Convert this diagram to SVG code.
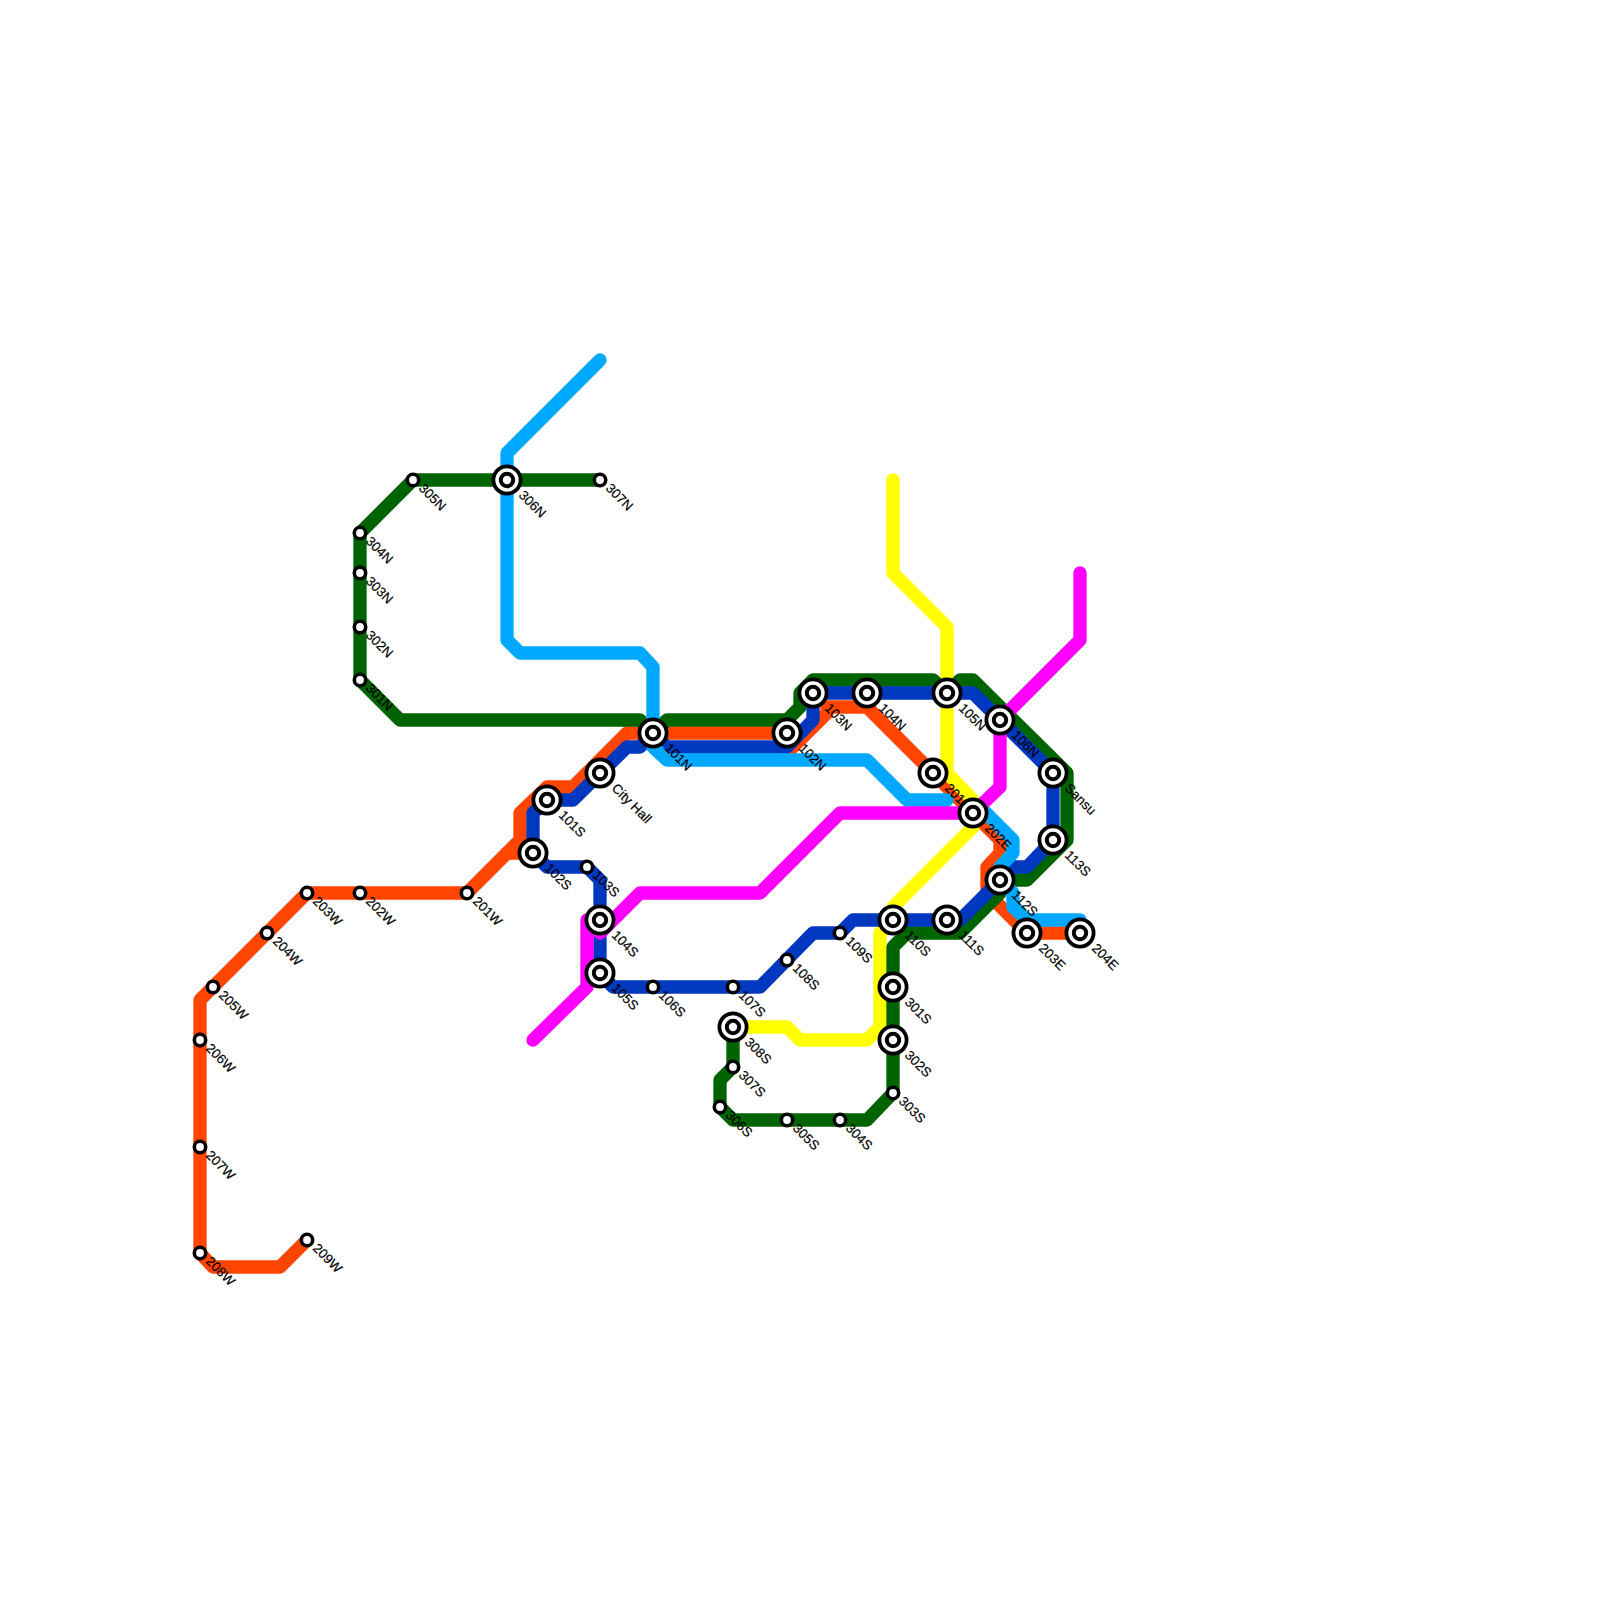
<svg xmlns="http://www.w3.org/2000/svg" width="1600" height="1600" viewBox="0 0 1600 1600">
<style>
.l{fill:none;stroke-width:13.33;stroke-linecap:round;stroke-linejoin:round}
.r{stroke:#FF4500}.y{stroke:#FFFF00}.g{stroke:#006400}.b{stroke:#0038C0}.c{stroke:#00A8FF}.m{stroke:#FF00FF}
.o,.i,.s{fill:#fff;stroke:#000}
.o{stroke-width:3.8;r:13.6px}
.i{stroke-width:4;r:6.2px}
.s{stroke-width:3.6;r:5.7px}
text{font-family:"Liberation Sans",Arial,sans-serif;font-size:13.33px;fill:#000;stroke:#000;stroke-width:.2}
</style>
<rect width="1600" height="1600" fill="#fff"/>
<g id="connectors">
<path class="l r" d="M307 1240L280 1267H213L200 1253V1000L307 893H467L520 840V813L547 787H573L627 733H787V753L827 713V707H867L933 773L973 813L1000 840V853L987 867V893L1027 933H1080"/>
<path class="l r" d="M507 853H533"/>
<path class="l y" d="M893 480V573L947 627V773L973 800V827L893 907V920L880 933V1027L867 1040H800L787 1027H733"/>
<path class="l g" d="M600 480H413L360 533V680L400 720H640L653 733L667 720H787L800 707V693L813 680H933L947 693L960 680H973L1067 773V840L1027 880H1000V893L960 933H907L893 947V1093L867 1120H733L720 1107V1080L733 1067V1027"/>
<path class="l b" d="M653 733L640 747H627L573 800H547L533 813V853L547 867H587L600 880V973L613 987H760L813 933H840L853 920H960L1000 880L1013 867H1027L1053 840V773L973 693H813V720L787 747H667L653 733"/>
<path class="l c" d="M600 360L507 453V640L520 653H640L653 667V747L667 760H867L907 800H947"/>
<path class="l c" d="M980 807L1013 840V853L1000 867V880L1013 893V907L1027 920H1080"/>
<path class="l m" d="M1080 573V640L1000 720V787L973 813H840L760 893H640L600 933"/>
<path class="l m" d="M600 920H587V987L533 1040"/>
</g>
<g id="n-201W"><circle class="s" cx="467" cy="893"/><text transform="translate(472 902) rotate(45)">201W</text></g>
<g id="n-202W"><circle class="s" cx="360" cy="893"/><text transform="translate(365 902) rotate(45)">202W</text></g>
<g id="n-203W"><circle class="s" cx="307" cy="893"/><text transform="translate(312 902) rotate(45)">203W</text></g>
<g id="n-204W"><circle class="s" cx="267" cy="933"/><text transform="translate(272 942) rotate(45)">204W</text></g>
<g id="n-205W"><circle class="s" cx="213" cy="987"/><text transform="translate(218 996) rotate(45)">205W</text></g>
<g id="n-206W"><circle class="s" cx="200" cy="1040"/><text transform="translate(205 1049) rotate(45)">206W</text></g>
<g id="n-207W"><circle class="s" cx="200" cy="1147"/><text transform="translate(205 1156) rotate(45)">207W</text></g>
<g id="n-208W"><circle class="s" cx="200" cy="1253"/><text transform="translate(205 1262) rotate(45)">208W</text></g>
<g id="n-209W"><circle class="s" cx="307" cy="1240"/><text transform="translate(312 1249) rotate(45)">209W</text></g>
<g id="n-301N"><circle class="s" cx="360" cy="680"/><text transform="translate(365 689) rotate(45)">301N</text></g>
<g id="n-302N"><circle class="s" cx="360" cy="627"/><text transform="translate(365 636) rotate(45)">302N</text></g>
<g id="n-303N"><circle class="s" cx="360" cy="573"/><text transform="translate(365 582) rotate(45)">303N</text></g>
<g id="n-304N"><circle class="s" cx="360" cy="533"/><text transform="translate(365 542) rotate(45)">304N</text></g>
<g id="n-305N"><circle class="s" cx="413" cy="480"/><text transform="translate(418 489) rotate(45)">305N</text></g>
<g id="n-306N"><circle class="o" cx="507" cy="480"/><circle class="i" cx="507" cy="480"/><text transform="translate(518 496) rotate(45)">306N</text></g>
<g id="n-307N"><circle class="s" cx="600" cy="480"/><text transform="translate(605 489) rotate(45)">307N</text></g>
<g id="n-101S"><circle class="o" cx="547" cy="800"/><circle class="i" cx="547" cy="800"/><text transform="translate(558 816) rotate(45)">101S</text></g>
<g id="n-102S"><circle class="o" cx="533" cy="853"/><circle class="i" cx="533" cy="853"/><text transform="translate(544 869) rotate(45)">102S</text></g>
<g id="n-103S"><circle class="s" cx="587" cy="867"/><text transform="translate(592 876) rotate(45)">103S</text></g>
<g id="n-104S"><circle class="o" cx="600" cy="920"/><circle class="i" cx="600" cy="920"/><text transform="translate(611 936) rotate(45)">104S</text></g>
<g id="n-105S"><circle class="o" cx="600" cy="973"/><circle class="i" cx="600" cy="973"/><text transform="translate(611 989) rotate(45)">105S</text></g>
<g id="n-106S"><circle class="s" cx="653" cy="987"/><text transform="translate(658 996) rotate(45)">106S</text></g>
<g id="n-107S"><circle class="s" cx="733" cy="987"/><text transform="translate(738 996) rotate(45)">107S</text></g>
<g id="n-108S"><circle class="s" cx="787" cy="960"/><text transform="translate(792 969) rotate(45)">108S</text></g>
<g id="n-109S"><circle class="s" cx="840" cy="933"/><text transform="translate(845 942) rotate(45)">109S</text></g>
<g id="n-110S"><circle class="o" cx="893" cy="920"/><circle class="i" cx="893" cy="920"/><text transform="translate(904 936) rotate(45)">110S</text></g>
<g id="n-111S"><circle class="o" cx="947" cy="920"/><circle class="i" cx="947" cy="920"/><text transform="translate(958 936) rotate(45)">111S</text></g>
<g id="n-112S"><text transform="translate(1011 896) rotate(45)">112S</text><circle class="o" cx="1000" cy="880"/><circle class="i" cx="1000" cy="880"/></g>
<g id="n-113S"><circle class="o" cx="1053" cy="840"/><circle class="i" cx="1053" cy="840"/><text transform="translate(1064 856) rotate(45)">113S</text></g>
<g id="n-Sansu"><circle class="o" cx="1053" cy="773"/><circle class="i" cx="1053" cy="773"/><text transform="translate(1064 789) rotate(45)">Sansu</text></g>
<g id="n-CityHall"><circle class="o" cx="600" cy="773"/><circle class="i" cx="600" cy="773"/><text transform="translate(611 789) rotate(45)">City Hall</text></g>
<g id="n-101N"><circle class="o" cx="653" cy="733"/><circle class="i" cx="653" cy="733"/><text transform="translate(664 749) rotate(45)">101N</text></g>
<g id="n-102N"><circle class="o" cx="787" cy="733"/><circle class="i" cx="787" cy="733"/><text transform="translate(798 749) rotate(45)">102N</text></g>
<g id="n-103N"><circle class="o" cx="813" cy="693"/><circle class="i" cx="813" cy="693"/><text transform="translate(824 709) rotate(45)">103N</text></g>
<g id="n-104N"><circle class="o" cx="867" cy="693"/><circle class="i" cx="867" cy="693"/><text transform="translate(878 709) rotate(45)">104N</text></g>
<g id="n-105N"><circle class="o" cx="947" cy="693"/><circle class="i" cx="947" cy="693"/><text transform="translate(958 709) rotate(45)">105N</text></g>
<g id="n-106N"><circle class="o" cx="1000" cy="720"/><circle class="i" cx="1000" cy="720"/><text transform="translate(1011 736) rotate(45)">106N</text></g>
<g id="n-201E"><circle class="o" cx="933" cy="773"/><circle class="i" cx="933" cy="773"/><text transform="translate(944 789) rotate(45)">201E</text></g>
<g id="n-202E"><circle class="o" cx="973" cy="813"/><circle class="i" cx="973" cy="813"/><text transform="translate(984 829) rotate(45)">202E</text></g>
<g id="n-203E"><circle class="o" cx="1027" cy="933"/><circle class="i" cx="1027" cy="933"/><text transform="translate(1038 949) rotate(45)">203E</text></g>
<g id="n-204E"><circle class="o" cx="1080" cy="933"/><circle class="i" cx="1080" cy="933"/><text transform="translate(1091 949) rotate(45)">204E</text></g>
<g id="n-301S"><circle class="o" cx="893" cy="987"/><circle class="i" cx="893" cy="987"/><text transform="translate(904 1003) rotate(45)">301S</text></g>
<g id="n-302S"><circle class="o" cx="893" cy="1040"/><circle class="i" cx="893" cy="1040"/><text transform="translate(904 1056) rotate(45)">302S</text></g>
<g id="n-303S"><circle class="s" cx="893" cy="1093"/><text transform="translate(898 1102) rotate(45)">303S</text></g>
<g id="n-304S"><circle class="s" cx="840" cy="1120"/><text transform="translate(845 1129) rotate(45)">304S</text></g>
<g id="n-305S"><circle class="s" cx="787" cy="1120"/><text transform="translate(792 1129) rotate(45)">305S</text></g>
<g id="n-306S"><circle class="s" cx="720" cy="1107"/><text transform="translate(725 1116) rotate(45)">306S</text></g>
<g id="n-307S"><circle class="s" cx="733" cy="1067"/><text transform="translate(738 1076) rotate(45)">307S</text></g>
<g id="n-308S"><circle class="o" cx="733" cy="1027"/><circle class="i" cx="733" cy="1027"/><text transform="translate(744 1043) rotate(45)">308S</text></g>
</svg>
